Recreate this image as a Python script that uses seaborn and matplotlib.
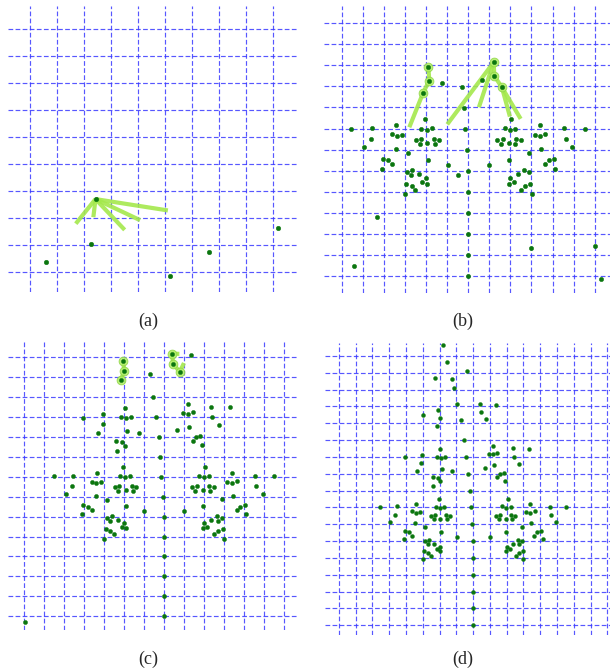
import matplotlib
matplotlib.use("Agg")
import matplotlib.pyplot as plt
import seaborn as sns

sns.set_style("white")
plt.rcParams["font.family"] = ["Liberation Serif", "DejaVu Serif"]

# ---------------- panel (a) ----------------
a_x = [2.43, 2.25, 0.60, 5.20, 6.64, 9.20]
a_y = [2.70, 1.03, 0.38, -0.16, 0.75, 1.63]
a_paths = [
    [(2.43, 2.70), (1.70, 1.79)],
    [(2.43, 2.70), (2.35, 2.03)],
    [(2.43, 2.70), (3.51, 1.56)],
    [(2.43, 2.70), (4.08, 1.92)],
    [(2.43, 2.70), (5.11, 2.28)],
]
a_glow_x = []
a_glow_y = []

# ---------------- panel (b) ----------------
b_x = [4.11, 4.16, 3.87, 7.21, 7.24, 7.60,
       5.87, 5.94, 6.0, 6.0, 6.0, 6.0, 6.0, 6.0, 5.80, 5.72, 6.67, 4.74,
       5.03, 5.50, 6.97,
       3.95, 3.78, 4.03, 4.27, 3.53, 3.76, 3.70, 4.06, 4.40, 4.62, 4.44,
       3.13, 4.08, 3.11, 3.35, 3.30, 3.68, 4.00, 3.83, 4.06, 3.07, 3.32,
       3.49, 3.00,
       0.46, 1.45, 1.38, 1.06, 2.59, 2.37, 2.61, 2.85, 2.56, 1.96, 2.20,
       2.37, 1.90, 1.66, 0.60,
       8.05, 7.75, 7.98, 8.24, 7.38, 7.64, 7.56, 7.94, 8.25, 8.49, 8.22,
       8.89, 7.94, 8.90, 8.65, 8.35, 8.00, 8.17, 7.94, 8.70, 8.95, 8.52,
       9.01,
       11.54, 10.56, 10.64, 10.94, 9.41, 9.15, 9.41, 9.66, 9.45, 10.06,
       9.82, 9.64, 10.13, 8.96, 12.02, 12.28]
b_y = [9.94, 9.28, 8.71, 10.15, 9.50, 8.96,
       7.00, 6.00, 5.00, 3.99, 2.99, 1.99, 1.00, 0.00, 7.99, 8.99, 9.31, 9.18,
       5.26, 4.80, 5.26,
       7.46, 7.00, 6.93, 7.03, 6.47, 6.52, 6.27, 6.30, 6.52, 6.47, 6.27,
       5.83, 5.51, 4.94, 5.02, 4.80, 4.83, 4.65, 4.48, 4.39, 4.37, 4.29,
       4.08, 3.89,
       7.00, 7.03, 6.52, 6.13, 7.17, 6.74, 6.66, 6.71, 6.03, 5.57, 5.49,
       5.30, 5.10, 2.79, 0.47,
       7.46, 7.03, 6.93, 7.00, 6.47, 6.52, 6.27, 6.30, 6.52, 6.47, 6.27,
       5.83, 5.51, 4.94, 5.02, 4.83, 4.65, 4.48, 4.39, 4.29, 4.37, 4.08,
       3.89,
       7.00, 7.03, 6.52, 6.13, 7.17, 6.71, 6.66, 6.74, 6.03, 5.57,
       5.49, 5.30, 5.10, 1.35, 1.44, -0.13]
b_paths = [
    [(4.11, 9.94), (4.16, 9.28), (3.87, 8.71), (3.21, 7.06)],
    [(7.21, 10.15), (5.01, 7.20)],
    [(7.21, 10.15), (6.51, 8.01)],
    [(7.21, 10.15), (7.24, 9.50), (7.60, 8.96), (7.98, 7.57)],
    [(7.60, 8.96), (8.49, 7.46)],
]
b_glow_x = [4.11, 4.16, 3.87, 7.21, 7.24, 7.60]
b_glow_y = [9.94, 9.28, 8.71, 10.15, 9.50, 8.96]

# ---------------- panel (c) ----------------
c_x = [4.93, 5.00, 4.82, 7.37, 7.45, 7.77, 8.35, 6.27, 6.43,
       5.03, 4.85, 5.10, 5.35, 3.93, 2.95, 3.92, 3.67, 5.15, 5.75, 6.57,
       6.72, 6.80, 4.60, 4.88, 5.05, 4.62,
       8.18, 7.93, 8.20, 8.43, 9.32, 10.30, 9.40, 9.72, 8.22, 7.65, 8.58,
       8.80, 8.42, 8.90,
       4.95, 4.78, 5.02, 5.27, 3.62, 2.45, 1.48, 2.38, 3.37, 3.60, 3.85,
       4.52, 4.75, 4.70, 5.07, 5.38, 5.60, 5.45, 2.07, 3.57, 4.13, 5.07,
       2.95, 3.18, 3.37, 2.88, 6.00, 6.85, 6.92,
       4.12, 4.37, 4.30, 4.67, 5.00, 4.87, 5.07, 4.07, 4.30, 4.48, 4.00,
       9.03, 8.72, 8.97, 9.22, 10.40, 11.53, 12.50, 11.60, 10.13, 10.38,
       10.62, 8.37, 8.62, 8.55, 8.93, 9.23, 9.47, 9.30, 11.93, 10.43, 9.87,
       8.92, 11.03, 10.80, 10.62, 11.10, 7.97,
       9.88, 9.63, 9.70, 9.32, 8.98, 9.15, 8.93, 9.92, 9.68, 9.50, 9.98,
       7.0, 7.0, 7.0, 7.0, 7.0, 7.0, 0.03]
c_y = [12.83, 12.33, 11.85, 13.18, 12.66, 12.26, 13.13, 12.18, 10.99,
       10.44, 9.99, 9.95, 10.02, 10.16, 9.97, 9.64, 9.19, 9.32, 9.19, 9.99,
       9.00, 8.01, 8.78, 8.73, 8.57, 8.28,
       10.67, 10.21, 10.16, 10.26, 10.52, 10.49, 10.02, 9.62, 9.52, 9.34,
       8.98, 9.07, 8.80, 8.58,
       7.48, 7.03, 6.98, 7.04, 7.21, 7.04, 7.03, 6.54, 6.76, 6.68, 6.74,
       6.51, 6.54, 6.29, 6.34, 6.54, 6.49, 6.29, 6.16, 6.06, 5.84, 5.54,
       5.60, 5.50, 5.32, 5.12, 5.27, 7.01, 6.01,
       4.95, 5.05, 4.80, 4.84, 4.68, 4.50, 4.42, 4.37, 4.30, 4.12, 3.90,
       7.48, 7.06, 6.98, 7.03, 7.21, 7.06, 7.03, 6.54, 6.74, 6.68,
       6.78, 6.49, 6.54, 6.29, 6.34, 6.54, 6.49, 6.29, 6.16, 6.06, 5.86,
       5.54, 5.60, 5.50, 5.32, 5.12, 5.27,
       4.95, 5.05, 4.80, 4.84, 4.68, 4.50, 4.42, 4.37, 4.30, 4.12, 3.90,
       5.00, 4.00, 3.00, 2.00, 1.00, 0.00, -0.30]
c_paths = [
    [(4.93, 12.83), (5.00, 12.33), (4.82, 11.85)],
    [(7.75, 13.17), (7.37, 13.18), (7.45, 12.66), (7.77, 12.26), (7.98, 12.71)],
]
c_glow_x = [4.93, 5.00, 4.82, 7.37, 7.45, 7.77]
c_glow_y = [12.83, 12.33, 11.85, 13.18, 12.66, 12.26]

# ---------------- panel (d) ----------------
d_x = [6.19, 6.47, 7.66, 5.73, 6.75, 6.89, 7.06, 8.40, 9.37, 5.93, 8.48,
       5.00, 6.01, 7.30, 8.78, 5.83, 7.46,
       6.05, 4.94, 5.87, 6.11, 6.35, 3.94, 7.60, 4.92, 6.15, 6.75, 4.68,
       7.72, 5.63, 5.89, 6.05, 5.63, 7.80,
       9.19, 10.35, 11.34, 8.96, 9.21, 9.45, 10.43, 10.75, 9.25, 8.68, 9.85,
       9.61, 9.43, 9.91,
       5.95, 4.62, 3.46, 2.47, 5.77, 6.03, 6.27, 7.88, 4.36, 4.60, 4.86,
       3.36, 5.51, 5.75, 6.39, 6.63, 5.69, 6.05, 6.45, 3.06, 4.56, 5.13,
       7.94, 3.96, 4.20, 4.38, 3.88, 6.07, 7.04, 8.00,
       5.11, 5.37, 5.29, 5.67, 6.01, 5.83, 6.05, 5.07, 5.31, 5.47, 5.00,
       10.07, 11.42, 12.58, 13.55, 9.73, 9.99, 10.25, 11.16, 11.42, 11.66,
       12.64, 9.37, 9.63, 10.25, 10.49, 9.57, 9.95, 10.33, 12.96, 11.46,
       10.91, 8.98, 9.95, 12.06, 11.82, 11.64, 12.14,
       10.91, 10.65, 10.73, 10.35, 10.03, 10.19, 9.97, 10.95, 10.71, 10.53,
       11.00,
       8.0, 8.0, 8.0, 8.0, 8.0]
d_y = [16.63, 15.62, 15.11, 14.71, 14.65, 14.10, 13.13, 13.16, 13.10, 12.81,
       12.67, 12.51, 12.31, 12.17, 12.25, 11.84, 10.98,
       10.45, 10.13, 9.99, 9.93, 10.01, 9.97, 9.99, 9.64, 9.30, 9.18, 9.18,
       8.98, 8.78, 8.72, 8.54, 8.29, 7.99,
       10.67, 10.53, 10.47, 10.19, 10.15, 10.23, 10.01, 9.60, 9.52, 9.32,
       9.06, 8.96, 8.78, 8.58,
       7.47, 7.20, 7.06, 7.02, 7.02, 6.96, 7.04, 7.00, 6.76, 6.68, 6.72,
       6.54, 6.48, 6.54, 6.54, 6.48, 6.28, 6.32, 6.28, 6.15, 6.05, 5.85,
       6.01, 5.59, 5.51, 5.31, 5.12, 5.53, 5.27, 5.02,
       4.98, 5.04, 4.80, 4.84, 4.66, 4.50, 4.42, 4.38, 4.30, 4.10, 3.91,
       7.47, 7.20, 7.04, 7.02, 7.06, 6.96, 7.00, 6.72, 6.68, 6.76,
       6.54, 6.48, 6.54, 6.54, 6.48, 6.28, 6.32, 6.28, 6.15, 6.05,
       5.85, 5.27, 5.53, 5.59, 5.51, 5.31, 5.12,
       4.98, 5.04, 4.80, 4.84, 4.66, 4.50, 4.42, 4.38, 4.30, 4.10,
       3.91,
       4.00, 3.00, 2.00, 1.00, 0.00]
d_paths = []
d_glow_x = []
d_glow_y = []

labels = ["(a)", "(b)", "(c)", "(d)"]

# axes boxes in pixels (left, top, right, bottom), limits and grid sizes
W, H = 610, 671
panels = [
    dict(box=(8, 6, 297, 292), xlim=(-0.81, 9.89), ylim=(-0.74, 9.85), n=10,
         x=a_x, y=a_y, paths=a_paths, gx=a_glow_x, gy=a_glow_y, s=11,
         label=labels[0], lab=(148, 321)),
    dict(box=(324.3, 6, 612, 293), xlim=(-0.82, 12.82), ylim=(-0.81, 12.82), n=13,
         x=b_x, y=b_y, paths=b_paths, gx=b_glow_x, gy=b_glow_y, s=10,
         label=labels[1], lab=(463, 321)),
    dict(box=(8.3, 341.7, 297, 630), xlim=(-0.8, 13.63), ylim=(-0.69, 13.78), n=14,
         x=c_x, y=c_y, paths=c_paths, gx=c_glow_x, gy=c_glow_y, s=9,
         label=labels[2], lab=(148, 659)),
    dict(box=(325, 342.7, 612, 635), xlim=(-0.83, 16.28), ylim=(-0.58, 16.78), n=17,
         x=d_x, y=d_y, paths=d_paths, gx=d_glow_x, gy=d_glow_y, s=8,
         label=labels[3], lab=(463, 659)),
]

GRID = "#3a3aff"
DOT = "#0b760f"
LINK = "#a4e84c"
GLOW = "#b2ee6a"

fig = plt.figure(figsize=(W / 100, H / 100), dpi=100)

for p in panels:
    l, t, r, b = p["box"]
    ax = fig.add_axes([l / W, 1 - b / H, (r - l) / W, (b - t) / H])
    ax.set_xlim(*p["xlim"])
    ax.set_ylim(*p["ylim"])
    ax.set_axis_off()
    for k in range(p["n"]):
        ax.axhline(k, color=GRID, lw=0.85, ls=(0, (4, 2)), alpha=0.85, zorder=1)
        ax.axvline(k, color=GRID, lw=0.85, ls=(0, (4, 2)), alpha=0.85, zorder=1)
    for path in p["paths"]:
        xs = [q[0] for q in path]
        ys = [q[1] for q in path]
        ax.plot(xs, ys, color=LINK, lw=3.0, alpha=0.9, solid_capstyle="butt",
                zorder=2)
    if p["gx"]:
        sns.scatterplot(x=p["gx"], y=p["gy"], ax=ax, s=40, color=GLOW,
                        edgecolor="#8fd646", linewidth=0.6, alpha=0.9, zorder=3)
    sns.scatterplot(x=p["x"], y=p["y"], ax=ax, s=p["s"], color=DOT,
                    edgecolor=DOT, linewidth=0.3, zorder=4)
    fig.text(p["lab"][0] / W, 1 - p["lab"][1] / H, p["label"], ha="center",
             va="center", fontsize=13)

fig.savefig("out.png", dpi=100)
